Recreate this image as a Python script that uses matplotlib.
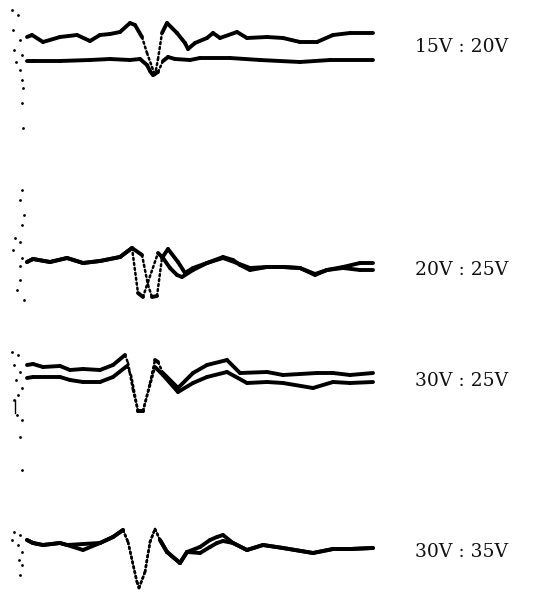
import matplotlib
matplotlib.use("Agg")
import matplotlib.pyplot as plt

# Oscilloscope traces, values.
# t = horizontal sweep position, v = deflection (up = positive) relative to each panel baseline
labels = ["15V : 20V", "20V : 25V", "30V : 25V", "30V : 35V"]
baselines = [37, 262, 365, 540]
label_y = [47, 270, 381, 552]

p1_t_a = [27, 32, 43, 60, 77, 90, 100, 110, 120, 130, 135, 142, 147, 152, 155, 158, 162, 167, 177, 185,
          188, 195, 207, 213, 220, 237, 247, 267, 283, 300, 317, 333, 350, 373]
p1_v_a = [0, 2, -5, 0, 2, -4, 2, 3, 5, 14, 12, 0, -16, -30, -38, -22, 4, 14, 4, -6,
          -12, -6, -1, 4, -1, 5, -1, 0, -1, -5, -5, 2, 4, 4]
p1_t_b = [27, 33, 60, 90, 110, 130, 140, 147, 150, 153, 158, 163, 168, 175, 190, 200, 230, 260, 300, 330, 373]
p1_v_b = [-24, -24, -24, -23, -22, -23, -22, -28, -34, -38, -35, -24, -20, -22, -23, -21, -21, -23, -25, -23, -23]

p2_t_a = [27, 33, 50, 67, 83, 100, 120, 132, 138, 143, 148, 158, 163, 170, 177, 182, 193, 207, 223, 233,
          240, 250, 267, 283, 300, 315, 327, 343, 360, 373]
p2_v_a = [0, 3, 0, 4, -1, 1, 5, 14, -31, -35, -20, 9, 4, -6, -13, -15, -8, -1, 5, 2,
          -3, -8, -5, -5, -6, -13, -8, -5, -1, -1]
p2_t_b = [27, 33, 50, 67, 83, 100, 120, 132, 142, 144, 148, 152, 157, 162, 168, 178, 185, 193, 207, 223,
          237, 250, 267, 283, 300, 315, 327, 343, 360, 373]
p2_v_b = [0, 3, 0, 4, -1, 1, 5, 14, 7, -3, -23, -35, -34, 4, 13, 0, -11, -6, -1, 4,
          -1, -6, -5, -5, -6, -12, -8, -6, -8, -8]

p3_t_a = [27, 33, 43, 60, 70, 83, 100, 113, 125, 128, 133, 138, 143, 150, 155, 158, 163, 178, 193, 207,
          227, 240, 267, 283, 317, 333, 350, 373]
p3_v_a = [0, 1, -2, -1, -5, -4, -5, 0, 10, 2, -25, -46, -46, -18, 5, 3, -8, -23, -8, 0,
          5, -8, -7, -10, -8, -8, -10, -8]
p3_t_b = [27, 33, 60, 70, 83, 100, 113, 127, 131, 138, 143, 155, 163, 178, 193, 207, 227, 247, 267, 283,
          313, 333, 350, 373]
p3_v_b = [-13, -12, -12, -15, -17, -17, -12, -1, -10, -46, -46, -2, -10, -27, -18, -12, -7, -18, -17, -18,
          -23, -17, -18, -17]

p4_t = [27, 33, 43, 60, 67, 83, 100, 113, 123, 128, 137, 139, 145, 150, 155, 160, 167, 180, 187, 200,
        210, 217, 223, 233, 247, 263, 283, 313, 333, 350, 373]
p4_v_a = [0, -3, -5, -3, -5, -4, -3, 3, 10, -2, -42, -48, -32, -2, 11, 0, -12, -23, -12, -7,
          0, 3, 5, -3, -10, -5, -8, -13, -9, -9, -8]
p4_v_b = [0, -3, -5, -3, -5, -10, -3, 3, 10, -2, -42, -48, -32, -2, 11, 0, -12, -23, -12, -13,
          -7, -3, -1, -3, -10, -5, -8, -13, -9, -9, -8]

panels = [
    [(p1_t_a, p1_v_a), (p1_t_b, p1_v_b)],
    [(p2_t_a, p2_v_a), (p2_t_b, p2_v_b)],
    [(p3_t_a, p3_v_a), (p3_t_b, p3_v_b)],
    [(p4_t, p4_v_a), (p4_t, p4_v_b)],
]

# stray trigger dots at the left edge of the scan
dot_x = [12, 18, 13, 20, 14, 22, 16, 20, 22, 23, 22, 23,
         15, 20, 13, 22, 20, 17, 24, 20, 22, 20, 24, 22,
         12, 18, 14, 20, 16, 22, 18, 14, 17, 22, 20, 22,
         14, 20, 12, 18, 22, 19, 22, 20]
dot_y = [10, 15, 30, 40, 50, 55, 62, 70, 80, 88, 103, 128,
         238, 242, 250, 258, 266, 290, 300, 280, 190, 200, 215, 225,
         352, 355, 365, 372, 380, 388, 395, 400, 415, 420, 437, 470,
         532, 535, 540, 545, 552, 560, 565, 575]

fig = plt.figure(figsize=(5.46, 5.92), dpi=100)
ax = fig.add_axes([0, 0, 1, 1])
ax.set_xlim(0, 546)
ax.set_ylim(592, 0)
ax.axis("off")

# slow parts of the sweep are drawn bright (thick), fast flanks only as dots
for base, traces in zip(baselines, panels):
    for t, v in traces:
        y = [base - a for a in v]
        for i in range(len(t) - 1):
            slope = abs(y[i + 1] - y[i]) / (t[i + 1] - t[i])
            if slope > 2.0:
                ax.plot(t[i:i + 2], y[i:i + 2], color="black", lw=1.8, ls=(0, (0.8, 1.2)),
                        dash_capstyle="round")
            else:
                ax.plot(t[i:i + 2], y[i:i + 2], color="black", lw=2.8,
                        solid_capstyle="round", solid_joinstyle="round")

ax.scatter(dot_x, dot_y, s=4, color="black", lw=0)
ax.plot([15, 15], [400, 413], color="black", lw=1)

for lab, y in zip(labels, label_y):
    ax.text(415, y, lab, fontsize=13.5, family="DejaVu Serif", va="center", ha="left", color="#111111")

fig.savefig("out.png", dpi=100)
